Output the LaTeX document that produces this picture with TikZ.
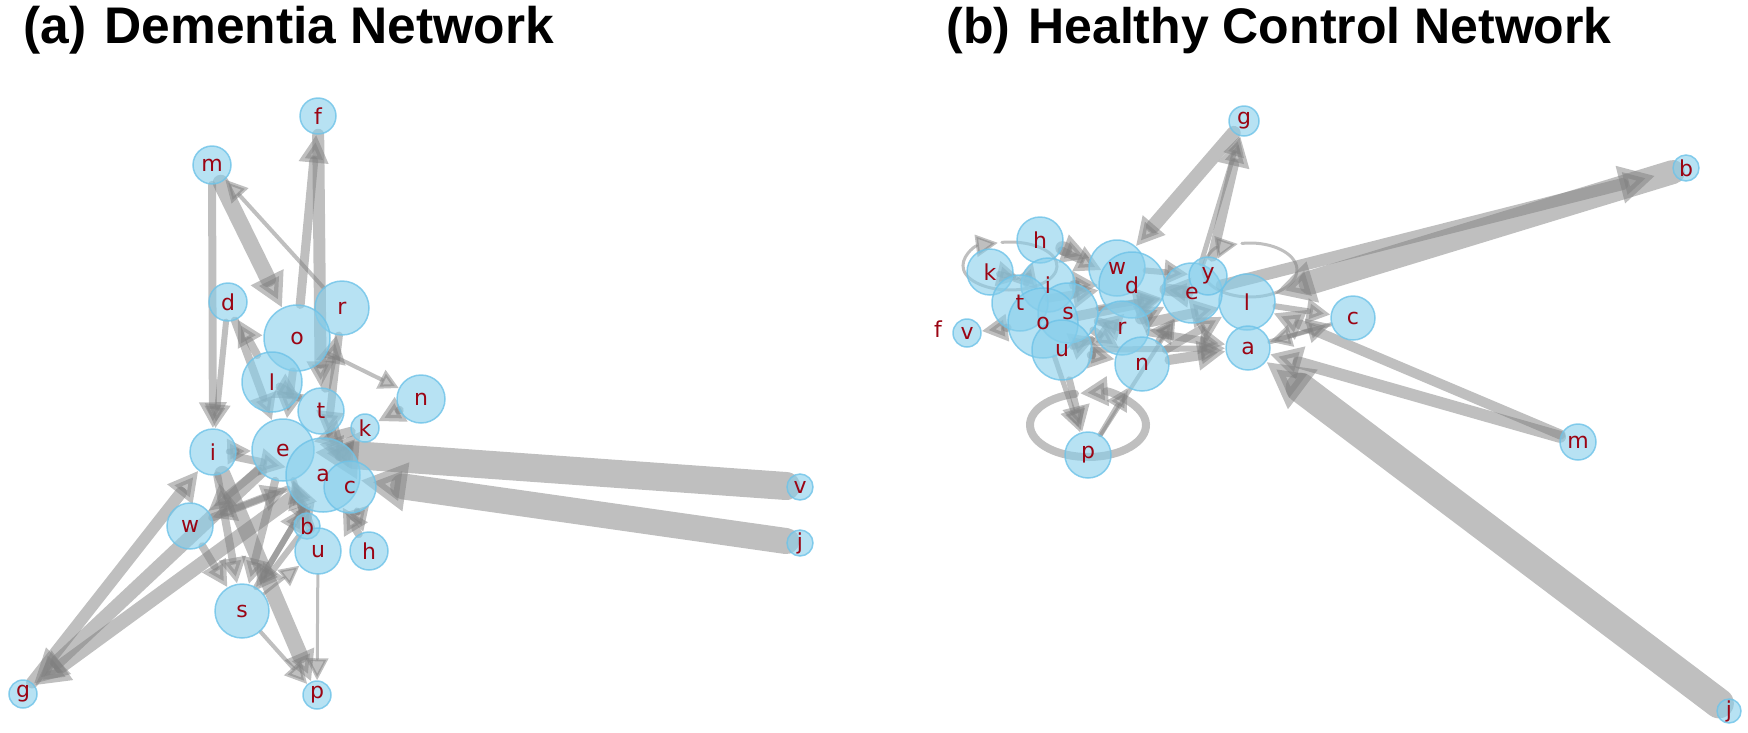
\documentclass[tikz,border=0pt]{standalone}
\usepackage{fontspec}
\setmainfont{Liberation Sans}
\newfontfamily\lbl{DejaVu Sans}
\usetikzlibrary{arrows.meta,calc}
\definecolor{sky}{RGB}{135,206,235}
\definecolor{skyd}{RGB}{110,195,232}
\definecolor{lab}{RGB}{155,5,20}
\pgfdeclarelayer{bg}
\pgfsetlayers{bg,main}
\begin{document}
\begin{tikzpicture}[x=1pt,y=-1pt,
  nd/.style={circle, minimum size=#1, inner sep=0pt, fill=sky, fill opacity=.6,
    draw=skyd, draw opacity=.8, line width=1.5pt},
  lb/.style={text=lab, inner sep=0pt, font=\lbl\fontsize{22}{22}\selectfont},
  ln/.style={line width=#1, draw=black!50, opacity=.5, line cap=round},
  ar/.style={-{Triangle[length=#1pt,width=#1pt]}},
  ttl/.style={anchor=base west, font=\bfseries\fontsize{#1}{52}\selectfont}]
\useasboundingbox (0,0) rectangle (1748,732);
\node[ttl=51.5] (ta) at (20,43) {(a)\hspace{18pt}Dementia Network};
\node[ttl=50] (tb) at (943,43) {(b)\hspace{18pt}Healthy Control Network};
% ---------------- left network nodes
\node[nd=36] (Af) at (318,116) {};
\node[nd=38] (Am) at (212,165) {};
\node[nd=38] (Ad) at (228,302) {};
\node[nd=54] (Ar) at (342,308) {};
\node[nd=66] (Ao) at (297,338) {};
\node[nd=60] (Al) at (272,382) {};
\node[nd=46] (At) at (321,411) {};
\node[nd=48] (An) at (421,399) {};
\node[nd=28] (Ak) at (365,428) {};
\node[nd=46] (Ai) at (213,452) {};
\node[nd=62] (Ae) at (283,450) {};
\node[nd=74] (Aa) at (323,475) {};
\node[nd=52] (Ac) at (350,487) {};
\node[nd=46] (Aw) at (190,526) {};
\node[nd=26] (Ab) at (307,526) {};
\node[nd=46] (Au) at (318,551) {};
\node[nd=38] (Ah) at (369,551) {};
\node[nd=54] (As) at (242,611) {};
\node[nd=28] (Ap) at (317,695) {};
\node[nd=26] (Av) at (800,487) {};
\node[nd=26] (Aj) at (800,543) {};
\node[nd=28] (Ag) at (23,694) {};
% ---------------- right network nodes
\node[nd=30] (Bg) at (1244,121) {};
\node[nd=26] (Bb) at (1686,168) {};
\node[nd=44] (Bc) at (1353,318) {};
\node[nd=56] (Bl) at (1247,302) {};
\node[nd=44] (Ba) at (1248,348) {};
\node[nd=60] (Be) at (1192,293) {};
\node[nd=38] (By) at (1208,276) {};
\node[nd=56] (Bw) at (1117,268) {};
\node[nd=66] (Bd) at (1132,285) {};
\node[nd=54] (Br) at (1122,328) {};
\node[nd=54] (Bn) at (1142,364) {};
\node[nd=46] (Bh) at (1040,240) {};
\node[nd=46] (Bk) at (990,272) {};
\node[nd=54] (Bi) at (1048,285) {};
\node[nd=56] (Bt) at (1020,303) {};
\node[nd=60] (Bs) at (1068,313) {};
\node[nd=70] (Bo) at (1043,323) {};
\node[nd=60] (Bu) at (1062,350) {};
\node[nd=28] (Bv) at (967,333) {};
\node[lb] (Bf) at (938,329) {f};
\node[nd=46] (Bp) at (1088,455) {};
\node[nd=36] (Bm) at (1578,442) {};
\node[nd=24] (Bj) at (1729,711) {};
% ---------------- labels on top
\foreach \n/\t in {Af/f,Am/m,Ad/d,Ar/r,Ao/o,Al/l,At/t,An/n,Ak/k,Ai/i,Ae/e,Aa/a,Ac/c,Aw/w,Ab/b,Au/u,Ah/h,As/s,Ap/p,Av/v,Aj/j,Ag/g,
  Bg/g,Bb/b,Bc/c,Bl/l,Ba/a,Be/e,By/y,Bw/w,Bd/d,Br/r,Bn/n,Bh/h,Bk/k,Bi/i,Bt/t,Bs/s,Bo/o,Bu/u,Bv/v,Bp/p,Bm/m,Bj/j}
  \node[lb] at (\n) {\t};
\begin{pgfonlayer}{bg}
% ---------------- left edges
\draw[ln=28, ar=44] (Av) -- (Ae);
\draw[ln=26, ar=46] (Aj) -- (Aa);
\draw[ln=16, ar=34] (Am) -- (Ao);
\draw[ln=4, ar=22] (Ar) -- (Am);
\draw[ln=8, ar=26] (Am) -- (Ai);
\draw[ln=6, ar=24] (Ad) -- (Ai);
\draw[ln=8, ar=26] (Ad) -- (Ae);
\draw[ln=9, ar=28] (Ao) -- (Af);
\draw[ln=12, ar=26] (Af) -- (At);
\draw[ln=4, ar=20] (Ao) -- (An);
\draw[ln=8, ar=26] (An) -- (Ak);
\draw[ln=12, ar=30] (Ag) -- (Ai);
\draw[ln=14, ar=34] (Ae) -- (Ag);
\draw[ln=14, ar=34] (Aa) -- (Ag);
\draw[ln=8, ar=26] (Ai) -- (As);
\draw[ln=8, ar=26] (Ae) -- (As);
\draw[ln=6, ar=22] (Aa) -- (As);
\draw[ln=16, ar=30] (Ai) -- (Ap);
\draw[ln=4, ar=22] (As) -- (Ap);
\draw[ln=3, ar=22] (Au) -- (Ap);
\draw[ln=3, ar=20] (As) -- (Au);
\draw[ln=8, ar=26] (Ae) -- (Aw);
\draw[ln=6, ar=24] (Aa) -- (Aw);
\draw[ln=8, ar=26] (Ah) -- (Aa);
\draw[ln=6, ar=22] (Ab) -- (Ae);
\draw[ln=8, ar=26] (Al) -- (Ad);
\draw[ln=10, ar=28] (At) -- (Ar);
\draw[ln=6, ar=24] (Ai) -- (Ae);
\draw[ln=10, ar=28] (Ak) -- (Ae);
\draw[ln=8, ar=26] (Aa) -- (Ak);
\draw[ln=10, ar=28] (Au) -- (Ae);
\draw[ln=8, ar=26] (Aw) -- (Aa);
\draw[ln=6, ar=24] (As) -- (Aa);
\draw[ln=6, ar=24] (Ac) -- (Ah);
\draw[ln=8, ar=26] (Al) -- (At);
\draw[ln=8, ar=26] (Ao) -- (Ae);
\draw[ln=8, ar=26] (Ar) -- (Aa);
\draw[ln=6, ar=24] (At) -- (Ac);
\draw[ln=8, ar=26] (Aw) -- (As);
\draw[ln=6, ar=24] (Ab) -- (As);
\draw[ln=8, ar=26] (Ai) -- (Aa);
\draw[ln=6, ar=24] (Ae) -- (Au);
% ---------------- right edges
\draw[ln=24, ar=40] (Bb) -- (Bl);
\draw[ln=12, ar=36, shorten >=18pt] (Be) -- (Bb);
\draw[ln=14, ar=28] (Bg) -- (Bw);
\draw[ln=10, ar=30] (By) -- (Bg);
\draw[ln=5, ar=20] (Be) -- (Bg);
\draw[ln=3, ar=22] ($(By)+(42,-6)$) ++(-100:47 and 27) arc[start angle=-100, end angle=255, x radius=47, y radius=27];
\draw[ln=6, ar=24] (Bl) -- (Bc);
\draw[ln=5, ar=24] (Ba) -- (Bc);
\draw[ln=4, ar=22] (Bc) -- (Ba);
\draw[ln=10, ar=30] (Bm) -- (Bl);
\draw[ln=12, ar=32] (Bm) -- (Ba);
\draw[ln=30, ar=46] (Bj) -- (Ba);
\draw[ln=7, ar=26] (Bu) -- (Bp);
\draw[ln=5, ar=24] (Bo) -- (Bp);
\draw[ln=8, ar=28] ($(Bp)+(0,-30)$) ++(617:58 and 32) arc[start angle=617, end angle=262, x radius=58, y radius=32];
\draw[ln=5, ar=22] (Bp) -- (Bn);
\draw[ln=4, ar=20] (Bp) -- (Be);
\draw[ln=3, ar=22] ($(Bk)+(20,-6)$) ++(-100:47 and 24) arc[start angle=-100, end angle=255, x radius=47, y radius=24];
\draw[ln=8, ar=26] (Bo) -- (Bv);
\draw[ln=14, ar=28] (Bh) -- (Bw);
\draw[ln=10, ar=26] (Bi) -- (Bd);
\draw[ln=8, ar=26] (Bs) -- (Br);
\draw[ln=10, ar=28] (Bo) -- (Be);
\draw[ln=8, ar=26] (Bt) -- (Bd);
\draw[ln=8, ar=26] (Bu) -- (Bn);
\draw[ln=12, ar=28] (Br) -- (Be);
\draw[ln=10, ar=28] (Bn) -- (Ba);
\draw[ln=10, ar=28] (Br) -- (Bl);
\draw[ln=12, ar=28] (Bd) -- (Be);
\draw[ln=8, ar=26] (Bs) -- (Bn);
\draw[ln=8, ar=26] (Bu) -- (Br);
\draw[ln=8, ar=26] (Bn) -- (Bl);
\draw[ln=6, ar=24] (Bw) -- (By);
\draw[ln=8, ar=26] (Bh) -- (Bd);
\draw[ln=6, ar=24] (Bk) -- (Bi);
\draw[ln=6, ar=24] (Bt) -- (Bh);
\draw[ln=6, ar=24] (Bs) -- (Be);
\draw[ln=8, ar=26] (Br) -- (Ba);
\draw[ln=6, ar=24] (Bn) -- (Be);
\draw[ln=6, ar=24] (Bu) -- (Ba);
\end{pgfonlayer}
\end{tikzpicture}
\end{document}
